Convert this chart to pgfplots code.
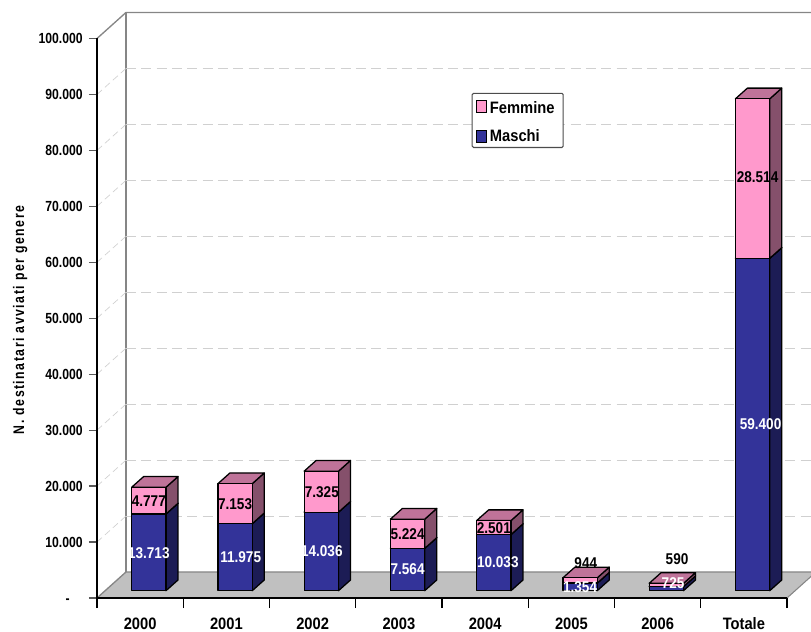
\documentclass[border=0pt]{standalone}
\usepackage{pgfplots}
\pgfplotsset{compat=1.18}
\usepackage{fontspec}
\setmainfont{Liberation Sans}
\newfontfamily\tickf[FakeStretch=0.83]{Liberation Sans}
\newfontfamily\labf[FakeStretch=0.87]{Liberation Sans}
\newfontfamily\xf[FakeStretch=0.89]{Liberation Sans}
\newfontfamily\yf[FakeStretch=0.8,LetterSpace=10]{Liberation Sans}
\definecolor{bl}{HTML}{333399}
\definecolor{bls}{HTML}{1C1C55}
\definecolor{pk}{HTML}{FF99CC}
\definecolor{pks}{HTML}{85506B}
\definecolor{pkt}{HTML}{BF7399}
\definecolor{flr}{HTML}{C0C0C0}
\definecolor{wall}{HTML}{868686}
\definecolor{gridc}{HTML}{D0D0D0}
% px: 1 category = 86.25 px, 1 (thousand) = 5.595 px
\newcommand\seg[6]{% i, base, h, front, side, top
  \pgfmathsetmacro\xa{#1+0.402}
  \pgfmathsetmacro\xb{\xa+0.398}
  \pgfmathsetmacro\xc{\xb+0.139}
  \pgfmathsetmacro\xd{\xa+0.139}
  \pgfmathsetmacro\ya{#2}
  \pgfmathsetmacro\yb{#2+#3}
  \pgfmathsetmacro\yc{\ya+1.912}
  \pgfmathsetmacro\yd{\yb+1.912}
  \edef\tmp{%
  \noexpand\addplot[forget plot,fill=#5,draw=black,line width=0.95pt,line join=round] coordinates {(\xb,\ya) (\xc,\yc) (\xc,\yd) (\xb,\yb)} -- cycle;
  \noexpand\addplot[forget plot,fill=#6,draw=black,line width=0.95pt,line join=round] coordinates {(\xa,\yb) (\xd,\yd) (\xc,\yd) (\xb,\yb)} -- cycle;
  \noexpand\addplot[forget plot,fill=#4,draw=black,line width=0.95pt,line join=round] coordinates {(\xa,\ya) (\xb,\ya) (\xb,\yb) (\xa,\yb)} -- cycle;
  }\tmp
}
\newcommand\lab[5]{% i, y-centre (thousands), colour, text, dx in px
  \pgfmathsetmacro\lx{#1+0.601+#5/86.25}
  \pgfmathsetmacro\ly{#2}
  \edef\tmp{\noexpand\node[lab,text=#3] at (axis cs:\lx,\ly) {#4};}\tmp
}
\newcommand\stackbar[3]{% i, blue, pink
  \pgfmathsetmacro\ytop{1.305+#2}
  \edef\ysaved{\ytop}
  \seg{#1}{1.305}{#2}{bl}{bls}{bl}
  \seg{#1}{\ysaved}{#3}{pk}{pks}{pkt}
}
\begin{document}
\begin{tikzpicture}[x=1pt,y=1pt,
  lab/.style={font=\labf\bfseries\fontsize{11.7}{12}\selectfont,inner sep=0pt,anchor=center},
  xl/.style={font=\xf\bfseries\fontsize{12.4}{13}\selectfont,inner sep=0pt,anchor=center}]
\useasboundingbox (0,0) rectangle (608.25pt,474pt);
\begin{axis}[
  at={(72.75pt,25.5pt)},anchor=south west,
  scale only axis,width=517.5pt,height=419.625pt,
  xmin=0,xmax=8,ymin=0,ymax=100,clip=false,
  axis lines*=left,axis line style={-,black,line width=0.9pt},
  axis on top,
  xtick=\empty,
  extra x ticks={0,1,2,3,4,5,6,7,8},
  extra x tick labels={},
  extra x tick style={major tick length=7.5pt,tick style={draw=black,line width=0.8pt}},
  ytick={0,10,20,30,40,50,60,70,80,90,100},
  yticklabels={-\hspace*{9.75pt},10.000,20.000,30.000,40.000,50.000,60.000,70.000,80.000,90.000,100.000},
  y tick style={draw=black!65,line width=0.9pt},
  tick align=outside,
  major tick length=6pt,
  yticklabel style={xshift=-1.2pt,yshift=-1.5pt,font=\tickf\bfseries\fontsize{11}{12}\selectfont},
  typeset ticklabels with strut,
  ylabel={N. destinatari avviati per genere},
  every axis y label/.style={at={(axis cs:-0.89,49.7)},rotate=90,anchor=center,font=\yf\bfseries\fontsize{11.5}{12}\selectfont},
  legend style={at={(axis cs:4.344,90.3)},anchor=north west,draw=black!70,line width=0.8pt,rounded corners=1pt,fill=white,
     font=\xf\bfseries\fontsize{12.4}{13}\selectfont,row sep=6.25pt,inner xsep=3pt,inner ysep=1.3pt},
  legend cell align=left,
]
% floor
\addplot[forget plot,fill=flr,draw=none] coordinates {(0,0) (8,0) (8.336,4.647) (0.336,4.647)} -- cycle;
\addplot[forget plot,wall,line width=1pt] coordinates {(0,0) (0.336,4.647) (8.3,4.647)};
\addplot[forget plot,wall,line width=0.8pt] coordinates {(8,0) (8.336,4.647)};
% back wall and side wall edges
\addplot[forget plot,wall,line width=1pt] coordinates {(0,100) (0.336,104.647) (8.3,104.647)};
\addplot[forget plot,wall,line width=1pt] coordinates {(0.336,4.647) (0.336,104.647)};
% gridlines
\pgfplotsinvokeforeach{10,20,30,40,50,60,70,80,90}{
  \pgfmathsetmacro\gy{#1+4.647}
  \edef\tmp{\noexpand\addplot[forget plot,gridc,line width=0.8pt,dash pattern=on 7.5pt off 4pt] coordinates {(0.336,\gy) (8.32,\gy)};
  \noexpand\addplot[forget plot,gridc,line width=0.5pt,dash pattern=on 5pt off 3pt] coordinates {(0,#1) (0.336,\gy)};}\tmp
}
% bars
\stackbar{0}{13.713}{4.777}
\stackbar{1}{11.975}{7.153}
\stackbar{2}{14.036}{7.325}
\stackbar{3}{7.564}{5.224}
\stackbar{4}{10.033}{2.501}
\stackbar{5}{1.354}{0.944}
\stackbar{6}{0.725}{0.590}
\stackbar{7}{59.400}{28.514}
% value labels
\lab{0}{8.1}{white}{13.713}{0}
\lab{0}{17.4}{black}{4.777}{0}
\lab{1}{7.3}{white}{11.975}{5.6}
\lab{1}{16.85}{black}{7.153}{0}
\lab{2}{8.3}{white}{14.036}{0.5}
\lab{2}{19.0}{black}{7.325}{0.5}
\lab{3}{5.1}{white}{7.564}{0}
\lab{3}{11.5}{black}{5.224}{0}
\lab{4}{6.35}{white}{10.033}{4}
\lab{4}{12.5}{black}{2.501}{0}
\lab{5}{1.9}{white}{1.354}{0}
\lab{5}{6.2}{black}{944}{5.7}
\lab{6}{2.6}{white}{725}{6.7}
\lab{6}{7.0}{black}{590}{10.7}
\lab{7}{31.1}{white}{59.400}{8}
\lab{7}{75.2}{black}{28.514}{5}
% category labels
\pgfplotsinvokeforeach{0,1,2,3,4,5,6}{
  \pgfmathsetmacro\cx{#1+0.5}
  \pgfmathtruncatemacro\yr{2000+#1}
  \edef\tmp{\noexpand\node[xl] at (axis cs:\cx,-4.6) {\yr};}\tmp
}
\node[xl] at (axis cs:7.5,-4.6) {Totale};
% legend
\addlegendimage{legend image code/.code={\draw[fill=pk,draw=black,line width=0.8pt,sharp corners] (0pt,-4.5pt) rectangle (7.5pt,4.5pt);}}
\addlegendentry{\rule{0pt}{11.8pt}Femmine\hspace*{1.5pt}}
\addlegendimage{legend image code/.code={\draw[fill=bl,draw=black,line width=0.8pt,sharp corners] (0pt,-4.5pt) rectangle (7.5pt,4.5pt);}}
\addlegendentry{Maschi}
\end{axis}
\end{tikzpicture}
\end{document}
